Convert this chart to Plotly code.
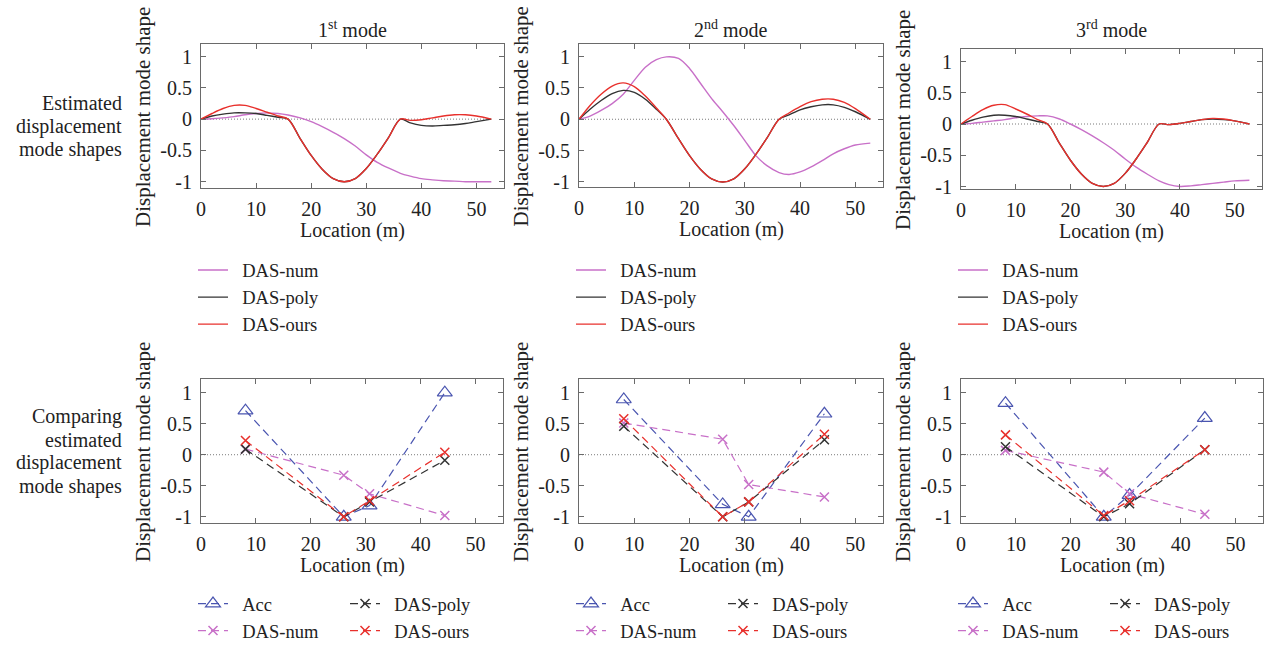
import plotly.graph_objects as go

W, H = 1269, 646
SERIF = "Liberation Serif"
INK = "#222222"

# Sampling positions along the span (m)
LOC = [0, 2, 4, 6, 8, 10, 12, 14, 15.8, 18, 20, 22, 24, 26, 28, 30, 32, 34, 36.2,
       38, 40, 42, 44, 46, 48, 50, 52.7]
SPAN_END = 52.7

# Estimated displacement mode shapes
num_1 = [0, 0.005, 0.02, 0.04, 0.07, 0.09, 0.1, 0.09, 0.065, 0.02, -0.04, -0.12, -0.21, -0.31,
         -0.43, -0.57, -0.69, -0.78, -0.865, -0.91, -0.95, -0.97, -0.985, -0.99, -1.0, -1.0, -1.0]
poly_1 = [0, 0.05, 0.08, 0.1, 0.1, 0.09, 0.06, 0.03, 0, -0.31, -0.58, -0.8, -0.95, -1.0,
          -0.95, -0.79, -0.56, -0.3, 0, -0.06, -0.1, -0.11, -0.1, -0.09, -0.07, -0.04, 0]
ours_1 = [0, 0.09, 0.17, 0.22, 0.22, 0.17, 0.11, 0.05, 0, -0.31, -0.58, -0.8, -0.95, -1.0,
          -0.95, -0.79, -0.56, -0.3, 0, -0.02, -0.01, 0.02, 0.05, 0.07, 0.07, 0.05, 0]

num_2 = [0, 0.05, 0.14, 0.25, 0.4, 0.62, 0.83, 0.95, 0.995, 0.97, 0.81, 0.57, 0.33, 0.12,
         -0.1, -0.34, -0.58, -0.74, -0.85, -0.88, -0.84, -0.76, -0.66, -0.55, -0.47, -0.41, -0.38]
poly_2 = [0, 0.16, 0.3, 0.41, 0.46, 0.43, 0.32, 0.16, 0, -0.31, -0.58, -0.8, -0.95, -1.0,
          -0.95, -0.79, -0.56, -0.3, 0, 0.07, 0.15, 0.2, 0.23, 0.23, 0.19, 0.12, 0]
ours_2 = [0, 0.22, 0.4, 0.53, 0.58, 0.52, 0.37, 0.18, 0, -0.31, -0.58, -0.8, -0.95, -1.0,
          -0.95, -0.79, -0.56, -0.3, 0, 0.1, 0.2, 0.28, 0.32, 0.32, 0.27, 0.17, 0]

num_3 = [0, 0.01, 0.03, 0.05, 0.07, 0.1, 0.12, 0.13, 0.13, 0.08, 0.0, -0.09, -0.19, -0.3,
         -0.42, -0.56, -0.69, -0.8, -0.91, -0.97, -1.0, -0.99, -0.97, -0.95, -0.93, -0.91, -0.9]
poly_3 = [0, 0.06, 0.11, 0.14, 0.14, 0.12, 0.08, 0.04, 0, -0.31, -0.58, -0.8, -0.95, -1.0,
          -0.95, -0.79, -0.56, -0.3, 0, -0.01, 0.01, 0.04, 0.07, 0.08, 0.07, 0.05, 0]
ours_3 = [0, 0.12, 0.23, 0.3, 0.31, 0.24, 0.16, 0.07, 0, -0.31, -0.58, -0.8, -0.95, -1.0,
          -0.95, -0.79, -0.56, -0.3, 0, -0.01, 0.01, 0.04, 0.07, 0.09, 0.08, 0.05, 0]

# Sensor locations and mode shapes at the sensors
SENSORS = [8.1, 26.0, 30.7, 44.4]
acc_1 = [0.71, -1.0, -0.82, 1.0]
snum_1 = [0.09, -0.33, -0.63, -0.98]
spoly_1 = [0.09, -1.0, -0.76, -0.09]
sours_1 = [0.23, -1.0, -0.74, 0.04]

acc_2 = [0.89, -0.8, -1.0, 0.66]
snum_2 = [0.51, 0.25, -0.48, -0.68]
spoly_2 = [0.46, -1.0, -0.76, 0.24]
sours_2 = [0.58, -1.0, -0.76, 0.33]

acc_3 = [0.83, -1.0, -0.65, 0.59]
snum_3 = [0.07, -0.28, -0.63, -0.96]
spoly_3 = [0.13, -1.0, -0.79, 0.08]
sours_3 = [0.32, -0.98, -0.74, 0.08]

MODE_TITLES = ["1<sup>st</sup> mode", "2<sup>nd</sup> mode", "3<sup>rd</sup> mode"]
X_TICKS = [0, 10, 20, 30, 40, 50]
Y_TICKS = [-1, -0.5, 0, 0.5, 1]
Y_TICKTEXT = ["-1", "-0.5", "0", "0.5", "1"]
ROW1_CAPTION = ["Estimated", "displacement", "mode shapes"]
ROW2_CAPTION = ["Comparing", "estimated", "displacement", "mode shapes"]

C_ACC = "#4a55b0"
C_NUM = "#c870c8"
C_POLY = "#333333"
C_OURS = "#e8302c"

# Panel boxes in pixels: (left, right, top, bottom), plus y range
TOP_BOXES = [(201, 504, 44, 188, [-1.1, 1.2]),
             (579, 883, 44, 187, [-1.08, 1.2]),
             (961, 1262, 49, 189, [-1.04, 1.2])]
BOT_BOXES = [(201, 503, 379, 523, [-1.1, 1.22]),
             (579, 883, 379, 523, [-1.1, 1.22]),
             (961, 1263, 379, 523, [-1.1, 1.22])]

PAD = "\u00a0\u00a0"  # gap between a legend sample and its label


def px_x(p):
    return p / W


def px_y(p):
    return 1 - p / H


fig = go.Figure()
layout = {}
annotations = []

axis_common = dict(
    showline=True, linecolor="#6a6a6a", linewidth=1, mirror="ticks",
    ticks="inside", ticklen=5, tickcolor="#6a6a6a", showgrid=False,
    zeroline=False, tickfont=dict(family=SERIF, size=20, color=INK),
    fixedrange=True,
)

top_series = [(num_1, poly_1, ours_1), (num_2, poly_2, ours_2), (num_3, poly_3, ours_3)]
bot_series = [(acc_1, snum_1, spoly_1, sours_1), (acc_2, snum_2, spoly_2, sours_2),
              (acc_3, snum_3, spoly_3, sours_3)]


def text_at(text, x, y, size=20, angle=0, xanchor="center"):
    annotations.append(dict(text=text, x=px_x(x), y=px_y(y), xref="paper", yref="paper",
                            showarrow=False, textangle=angle,
                            font=dict(family=SERIF, size=size, color=INK),
                            xanchor=xanchor, yanchor="middle"))


def add_axes(idx, box):
    left, right, top, bottom, yr = box
    xa = "xaxis" if idx == 1 else f"xaxis{idx}"
    ya = "yaxis" if idx == 1 else f"yaxis{idx}"
    xref = "x" if idx == 1 else f"x{idx}"
    yref = "y" if idx == 1 else f"y{idx}"
    layout[xa] = dict(axis_common, domain=[px_x(left), px_x(right)], range=[0, 55],
                      tickvals=X_TICKS, anchor=yref, ticklabelstandoff=3)
    layout[ya] = dict(axis_common, domain=[px_y(bottom), px_y(top)], range=yr,
                      tickvals=Y_TICKS, ticktext=Y_TICKTEXT, anchor=xref, ticklabelstandoff=4)
    cx = (left + right) / 2
    cy = (top + bottom) / 2
    text_at("Location (m)", cx, bottom + 42)
    text_at("Displacement mode shape", left - 58, cy + 1, size=21, angle=-90)
    # dotted zero reference line
    fig.add_trace(go.Scatter(x=[0, SPAN_END], y=[0, 0], mode="lines", xaxis=xref, yaxis=yref,
                             line=dict(color="#7a7a7a", width=1, dash="1px,2px"),
                             showlegend=False, hoverinfo="skip"))
    return xref, yref


LEGEND_FONT = dict(family=SERIF, size=18.5, color=INK)

# Top row: estimated mode shapes along the span
for i, (box, (num, poly, ours)) in enumerate(zip(TOP_BOXES, top_series)):
    xref, yref = add_axes(i + 1, box)
    lg = "legend" if i == 0 else f"legend{i + 1}"
    for name, vals, col in (("DAS-num", num, C_NUM), ("DAS-poly", poly, C_POLY),
                            ("DAS-ours", ours, C_OURS)):
        fig.add_trace(go.Scatter(x=LOC, y=vals, mode="lines", name=PAD + name,
                                 xaxis=xref, yaxis=yref,
                                 line=dict(color=col, width=1.4, shape="spline", smoothing=0.9),
                                 legend=lg))
    left, right, top, bottom, _ = box
    text_at(MODE_TITLES[i], (left + right) / 2, 29)
    layout[lg] = dict(x=px_x(left - 8), y=px_y(251.5), xanchor="left", yanchor="top",
                      bgcolor="rgba(0,0,0,0)", font=LEGEND_FONT, tracegroupgap=0)

# Bottom row: comparison at the sensor locations
DASH = "8px,5px"
for i, (box, (acc, snum, spoly, sours)) in enumerate(zip(BOT_BOXES, bot_series)):
    xref, yref = add_axes(i + 4, box)
    lg_a = f"legend{4 + 2 * i}"
    lg_b = f"legend{5 + 2 * i}"
    entries = [
        ("Acc", acc, C_ACC, dict(symbol="triangle-up-open", size=13, color=C_ACC,
                                 line=dict(color=C_ACC, width=1.2)), lg_a),
        ("DAS-num", snum, C_NUM, dict(symbol="x-thin", size=9,
                                      line=dict(color=C_NUM, width=1.5)), lg_a),
        ("DAS-poly", spoly, C_POLY, dict(symbol="x-thin", size=9,
                                         line=dict(color=C_POLY, width=1.5)), lg_b),
        ("DAS-ours", sours, C_OURS, dict(symbol="x-thin", size=9,
                                         line=dict(color=C_OURS, width=1.5)), lg_b),
    ]
    for name, vals, col, mk, lg in entries:
        fig.add_trace(go.Scatter(x=SENSORS, y=vals, mode="lines+markers", name=PAD + name,
                                 xaxis=xref, yaxis=yref,
                                 line=dict(color=col, width=1.2, dash=DASH),
                                 marker=mk, legend=lg))
    left = box[0]
    for lg, off in ((lg_a, -8), (lg_b, 144)):
        layout[lg] = dict(x=px_x(left + off), y=px_y(585), xanchor="left", yanchor="top",
                          bgcolor="rgba(0,0,0,0)", font=LEGEND_FONT, tracegroupgap=0)

# Row captions, right-aligned beside each row
for line, yy in zip(ROW1_CAPTION, [103.5, 126.5, 149]):
    text_at(line, 124, yy, size=20, xanchor="right")
for line, yy in zip(ROW2_CAPTION, [416, 439.5, 463, 486.5]):
    text_at(line, 124, yy, size=20, xanchor="right")

fig.update_layout(
    width=W, height=H,
    # keep the panel boxes fixed: legends must not push the margins
    margin=dict(l=0, r=0, t=0, b=0, autoexpand=False),
    paper_bgcolor="white", plot_bgcolor="white",
    annotations=annotations,
    **layout,
)

fig.write_html("out.html")
